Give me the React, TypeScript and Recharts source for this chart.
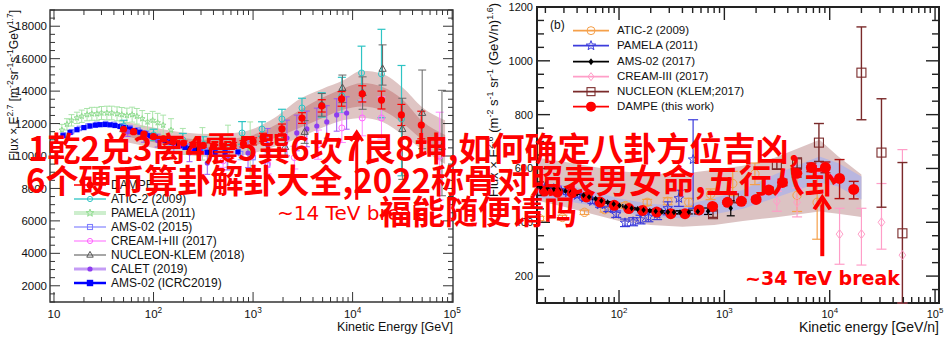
import React from 'react';
import {
  ComposedChart,
  Area,
  Scatter,
  ErrorBar,
  XAxis,
  YAxis,
  ReferenceArea,
  ReferenceLine,
  ReferenceDot,
  Legend,
} from 'recharts';

const FONT = '"Liberation Sans", Arial, Helvetica, sans-serif';
const RED = '#ff0000';

// ---------- panel (a): protons, flux x E^2.7 ----------
const P_X_DOMAIN = [9.12, 102000];
const P_Y_DOMAIN = [1000, 19000];
const P_X_MAJOR = [10, 100, 1000, 10000, 100000];
const P_Y_MAJOR = [2000, 4000, 6000, 8000, 10000, 12000, 14000, 16000, 18000];

const pBandE = [50, 100, 200, 400, 800, 1500, 3000, 5000, 8000, 12500, 20000, 32000, 50000, 85000];
const pOuterLo = [10900, 10500, 10100, 9950, 10050, 10500, 11150, 11750, 12200, 12350, 12100, 11300, 10400, 9500];
const pOuterHi = [12150, 11750, 11450, 11350, 11500, 12200, 13550, 14150, 14650, 15250, 15050, 14200, 13000, 12200];
const pInnerLo = [11250, 10850, 10450, 10300, 10450, 11000, 11750, 12350, 12850, 13050, 12800, 12000, 11000, 10100];
const pInnerHi = [11800, 11400, 11100, 11000, 11150, 11750, 12850, 13600, 14150, 14500, 14250, 13450, 12150, 11300];

const dampePE = [50, 63, 80, 100, 126, 158, 200, 250, 316, 400, 500, 630, 800, 1000, 1260, 1950, 3100, 4900, 7750, 12500, 19500, 30900, 49000];
const dampePF = [11650, 11500, 11350, 11200, 11050, 10900, 10800, 10700, 10650, 10600, 10600, 10650, 10750, 10900, 11150, 11670, 12340, 13090, 13520, 13830, 13450, 12530, 11910];
const dampePErr = [120, 120, 120, 120, 120, 130, 130, 140, 150, 160, 170, 180, 200, 220, 250, 300, 330, 380, 450, 500, 550, 650, 850];

const aticPE = [50, 100, 197, 316, 776, 1230, 1950, 3100, 4900, 7800, 12300, 19500, 31000];
const aticPF = [11850, 11300, 10990, 10740, 11420, 11660, 12280, 12960, 13150, 13700, 15120, 15060, 12280];
const aticPLo = [350, 350, 400, 450, 700, 450, 600, 600, 750, 1050, 1700, 2700, 3500];
const aticPHi = [350, 350, 400, 450, 700, 450, 600, 600, 750, 1150, 1650, 2750, 3300];

const pamelaPE = [12, 13.5, 15, 17, 19, 21.5, 24, 27, 30, 34, 38, 43, 48, 54, 61, 68, 77, 87, 98, 110, 125, 150, 197, 310, 560, 935];
const pamelaPF = [11600, 11950, 12200, 12350, 12450, 12550, 12600, 12600, 12650, 12650, 12650, 12600, 12550, 12500, 12550, 12450, 12300, 12100, 12200, 12050, 11900, 11600, 10900, 10750, 10600, 10400];
const pamelaPErr = [350, 350, 350, 350, 380, 380, 400, 400, 400, 420, 420, 430, 440, 450, 460, 480, 500, 520, 550, 580, 620, 700, 800, 1000, 1300, 1700];

const ams15E = [12.5, 15, 18, 22, 27, 33, 40, 48, 58, 70, 85, 103, 125, 150, 180, 220, 270, 330, 420, 550, 750, 1000, 1400];
const ams15F = [11300, 11500, 11700, 11850, 11950, 12000, 11950, 11850, 11750, 11600, 11400, 11200, 11000, 10850, 10700, 10550, 10420, 10330, 10270, 10220, 10150, 9900, 9450];
const ams15Err = [60, 60, 60, 60, 60, 60, 60, 70, 70, 80, 80, 90, 100, 110, 120, 140, 160, 190, 230, 290, 380, 500, 750];

const creamPE = [500, 1400, 2600, 4500, 7800, 12500, 19500, 75000];
const creamPF = [9700, 9500, 9900, 10700, 11730, 12345, 12345, 10000];
const creamPErr = [400, 600, 700, 900, 900, 1100, 1300, 2700];

const nucleonPE = [2100, 3300, 4900, 7900, 12600, 20000, 31600, 50000, 79000];
const nucleonPF = [10550, 11480, 13150, 14190, 13880, 15370, 11660, 12650, 10550];
const nucleonPLo = [600, 700, 700, 900, 1000, 1000, 3100, 2200, 3000];
const nucleonPHi = [600, 700, 700, 800, 1000, 1480, 1900, 2650, 3500];

const caletE = [55, 80, 110, 160, 230, 347, 550, 890, 1400, 2190, 2750, 3470, 4370, 5500, 6920, 8710];
const caletF = [11500, 11200, 10950, 10600, 10200, 9570, 9940, 10185, 10700, 11110, 11420, 11670, 11850, 12100, 12530, 12650];
const caletErr = [300, 350, 400, 450, 550, 700, 800, 900, 1000, 1100, 1100, 1100, 1100, 1000, 1000, 1000];

const amsIcrcE = [12.3, 14.5, 17, 20, 23, 26, 29, 32.6, 36.6, 41, 46, 52, 58, 65, 73, 82, 92, 104, 116, 131, 146, 164, 184, 207, 232, 260, 292, 345, 415, 523, 705];
const amsIcrcF = [11250, 11450, 11620, 11750, 11850, 11900, 11930, 11940, 11920, 11880, 11820, 11750, 11660, 11570, 11470, 11360, 11250, 11150, 11050, 10950, 10860, 10750, 10630, 10530, 10450, 10370, 10290, 10230, 10200, 10200, 10250];

// ---------- panel (b): helium, flux x E^2.6 ----------
const H_X_DOMAIN = [16.65, 109000];
const H_Y_DOMAIN = [100, 1200];
const H_X_MAJOR = [100, 1000, 10000, 100000];
const H_Y_MAJOR = [200, 400, 600, 800, 1000, 1200];

const hBandE = [17, 30, 50, 100, 200, 400, 800, 1500, 3000, 8000, 12000, 20000];
const hOuterLo = [480, 458, 435, 405, 390, 383, 390, 405, 418, 440, 432, 420];
const hOuterHi = [640, 625, 610, 590, 580, 580, 595, 610, 640, 707, 645, 578];
const hInnerLo = [490, 480, 465, 438, 420, 415, 430, 450, 490, 548, 533, 485];
const hInnerHi = [545, 538, 522, 488, 468, 462, 490, 520, 578, 644, 620, 570];

const dampeHE = [19.6, 26, 36, 49, 66, 90, 124, 167, 228, 310, 423, 575, 772, 1070, 1450, 2000, 2640, 3560, 4870, 6700, 9100, 12400, 16900];
const dampeHF = [516, 512, 510, 494, 475, 463, 451, 444, 438, 432, 432, 446, 459, 474, 478, 485, 520, 548, 582, 604, 604, 563, 522];
const dampeHLo = [3, 3, 3, 3, 3, 3, 3, 3, 3, 3, 4, 4, 5, 6, 7, 8, 10, 12, 14, 16, 20, 75, 35];
const dampeHHi = [3, 3, 3, 3, 3, 3, 3, 3, 3, 3, 4, 4, 5, 6, 7, 8, 10, 12, 14, 16, 20, 70, 30];

const ams17E = [18, 21, 24, 27, 31, 35, 40, 46, 52, 60, 68, 78, 89, 101, 116, 132, 150, 171, 196, 223, 255, 291, 332, 379, 460, 560, 700, 1150];
const ams17F = [530, 527, 524, 520, 516, 512, 507, 500, 494, 487, 480, 474, 468, 462, 457, 452, 449, 446, 443, 441, 439, 438, 437, 437, 438, 440, 441, 452];
const ams17Err = [3, 3, 3, 3, 3, 3, 3, 3, 3, 3, 3, 3, 3, 3, 3, 3, 3, 3, 4, 4, 4, 5, 5, 6, 7, 9, 12, 28];

const pamelaHE = [20, 24, 28, 33, 40, 47, 56, 66, 79, 94, 114, 136, 160, 190, 230, 290, 370, 505];
const pamelaHF = [532, 525, 518, 510, 500, 490, 478, 465, 450, 430, 398, 402, 410, 420, 430, 452, 489, 633];
const pamelaHLo = [6, 6, 6, 7, 7, 8, 8, 9, 10, 12, 14, 15, 16, 18, 20, 24, 30, 181];
const pamelaHHi = [6, 6, 6, 7, 7, 8, 8, 9, 10, 12, 14, 15, 16, 18, 20, 24, 30, 148];

const aticHE = [17.6, 29, 47, 73, 115, 185, 290, 460, 740, 1200, 1950, 4900, 7600];
const aticHF = [414, 418, 437, 447, 462, 474, 478, 474, 504, 544, 580, 500, 474];
const aticHLo = [8, 8, 8, 9, 10, 11, 13, 15, 20, 45, 40, 60, 137];
const aticHHi = [8, 8, 8, 9, 10, 11, 13, 15, 20, 45, 40, 80, 96];

const creamHE = [3150, 4900, 12400, 20000, 31000, 49000];
const creamHF = [478, 474, 356, 356, 400, 278];
const creamHLo = [37, 54, 112, 115, 100, 178];
const creamHHi = [37, 54, 96, 96, 144, 392];

const nucleonHE = [780, 1230, 3150, 4900, 7900, 20000, 31000, 49000];
const nucleonHF = [430, 489, 615, 619, 696, 956, 659, 359];
const nucleonHLo = [12, 15, 18, 20, 70, 175, 203, 259];
const nucleonHHi = [12, 15, 18, 20, 71, 170, 200, 263];

const OVERLAY_LINES = [
  '1乾2兑3离4震5巽6坎7艮8坤,如何确定八卦方位吉凶,',
  '6个硬币算卦解卦大全,2022称骨对照表男女命,五行八卦',
  '福能随便请吗',
];

// ---------- helpers ----------
const logTicks = (lo: number, hi: number) => {
  const out: number[] = [];
  for (let d = 1; d <= 100000; d *= 10) {
    for (let k = 1; k < 10; k++) {
      const v = d * k;
      if (v >= lo && v <= hi) out.push(v);
    }
  }
  return out;
};
const linTicks = (lo: number, hi: number, step: number) => {
  const out: number[] = [];
  for (let v = lo; v <= hi; v += step) out.push(v);
  return out;
};

const rows = (e: number[], f: number[], lo?: number[], hi?: number[]) =>
  e.map((x, i) => ({ e: x, f: f[i], err: lo ? [lo[i], (hi ?? lo)[i]] : [0, 0] }));

const bandRows = (e: number[], oLo: number[], oHi: number[], iLo: number[], iHi: number[]) =>
  e.map((x, i) => ({ e: x, outer: [oLo[i], oHi[i]], inner: [iLo[i], iHi[i]] }));

const pBand = bandRows(pBandE, pOuterLo, pOuterHi, pInnerLo, pInnerHi);
const hBand = bandRows(hBandE, hOuterLo, hOuterHi, hInnerLo, hInnerHi);

function starPoints(cx: number, cy: number, R: number) {
  const pts: string[] = [];
  for (let i = 0; i < 10; i++) {
    const a = -Math.PI / 2 + (i * Math.PI) / 5;
    const r = i % 2 ? R * 0.42 : R;
    pts.push(`${cx + r * Math.cos(a)},${cy + r * Math.sin(a)}`);
  }
  return pts.join(' ');
}

function Glyph({ kind, color, s, cx, cy }: any) {
  if (cx == null || cy == null || isNaN(cx) || isNaN(cy)) return null;
  switch (kind) {
    case 'dot':
      return <circle cx={cx} cy={cy} r={s} fill={color} />;
    case 'circle':
      return <circle cx={cx} cy={cy} r={s} fill="none" stroke={color} strokeWidth={1} />;
    case 'square':
      return <rect x={cx - s} y={cy - s} width={2 * s} height={2 * s} fill="none" stroke={color} strokeWidth={1.1} />;
    case 'box':
      return <rect x={cx - s} y={cy - s} width={2 * s} height={2 * s} fill={color} />;
    case 'diamond':
      return <polygon points={`${cx},${cy - s} ${cx + s * 0.75},${cy} ${cx},${cy + s} ${cx - s * 0.75},${cy}`} fill="none" stroke={color} strokeWidth={1} />;
    case 'rhomb':
      return <polygon points={`${cx},${cy - s} ${cx + s * 0.75},${cy} ${cx},${cy + s} ${cx - s * 0.75},${cy}`} fill={color} />;
    case 'triangle':
      return <polygon points={`${cx},${cy - s} ${cx + s * 0.9},${cy + s * 0.6} ${cx - s * 0.9},${cy + s * 0.6}`} fill="none" stroke={color} strokeWidth={1} />;
    case 'star':
      return <polygon points={starPoints(cx, cy, s)} fill="none" stroke={color} strokeWidth={1} />;
    default:
      return null;
  }
}

const mark = (kind: string, color: string, s: number) => (p: any) =>
  <Glyph kind={kind} color={color} s={s} cx={p.cx} cy={p.cy} />;

function XTick(props: any) {
  const { x, y, payload, plotH, majors, majorLen, minorLen, fs, dy, color, sw } = props;
  const v = payload.value;
  const major = majors.includes(v);
  const len = major ? majorLen : minorLen;
  const exp = Math.round(Math.log10(v));
  return (
    <g>
      <line x1={x} x2={x} y1={y} y2={y - len} stroke={color} strokeWidth={sw} />
      <line x1={x} x2={x} y1={y - plotH} y2={y - plotH + len} stroke={color} strokeWidth={sw} />
      {major && (
        <text x={x} y={y + dy} textAnchor="middle" fontSize={fs} fontFamily={FONT} fill="#111">
          10
          {exp > 1 && (
            <tspan dy={-fs * 0.45} fontSize={fs * 0.72}>
              {exp}
            </tspan>
          )}
        </text>
      )}
    </g>
  );
}

function YTick(props: any) {
  const { x, y, payload, plotW, majors, majorLen, minorLen, fs, gap, color, sw } = props;
  const v = payload.value;
  const major = majors.includes(v);
  const len = major ? majorLen : minorLen;
  return (
    <g>
      <line x1={x} x2={x + len} y1={y} y2={y} stroke={color} strokeWidth={sw} />
      <line x1={x + plotW} x2={x + plotW - len} y1={y} y2={y} stroke={color} strokeWidth={sw} />
      {major && (
        <text x={x - gap} y={y + fs * 0.36} textAnchor="end" fontSize={fs} fontFamily={FONT} fill="#111">
          {v}
        </text>
      )}
    </g>
  );
}

const P_LEGEND = [
  { name: 'DAMPE', color: RED, kind: 'dot', s: 3.5, lineW: 1.5, line: RED },
  { name: 'ATIC-2 (2009)', color: '#2ec4c4', kind: 'circle', s: 2.6, lineW: 1.3, line: '#2ec4c4' },
  { name: 'PAMELA (2011)', color: '#8fdc8f', kind: 'star', s: 4, lineW: 4, line: '#cdeecd' },
  { name: 'AMS-02 (2015)', color: '#7f7fff', kind: 'square', s: 2.5, lineW: 1.5, line: '#9d9dff' },
  { name: 'CREAM-I+III (2017)', color: '#ff66ff', kind: 'circle', s: 2.6, lineW: 1.3, line: '#ff88ff' },
  { name: 'NUCLEON-KLEM (2018)', color: '#555555', kind: 'triangle', s: 3.6, lineW: 1.3, line: '#777777' },
  { name: 'CALET (2019)', color: '#8d3cf0', kind: 'dot', s: 2.6, lineW: 3, line: '#c49cf5' },
  { name: 'AMS-02 (ICRC2019)', color: '#0000ff', kind: 'box', s: 3.2, lineW: 2.5, line: '#0000ff' },
];

const H_LEGEND = [
  { name: 'ATIC-2 (2009)', color: '#f5a04a', kind: 'circle', s: 4, lineW: 1.6, line: '#f5a04a' },
  { name: 'PAMELA (2011)', color: '#3c3cdc', kind: 'star', s: 5, lineW: 1.6, line: '#3c3cdc' },
  { name: 'AMS-02 (2017)', color: '#000000', kind: 'rhomb', s: 3.5, lineW: 1.6, line: '#000000' },
  { name: 'CREAM-III (2017)', color: '#ff9ec8', kind: 'diamond', s: 4, lineW: 1.6, line: '#ff9ec8' },
  { name: 'NUCLEON (KLEM;2017)', color: '#7a2a2a', kind: 'square', s: 4, lineW: 1.6, line: '#7a2a2a' },
  { name: 'DAMPE (this work)', color: RED, kind: 'dot', s: 5, lineW: 1.6, line: RED },
];

function LegendBox({ items, rowH, swatchW, gap, fs }: any) {
  return (
    <div style={{ fontFamily: FONT, fontSize: fs, color: '#111' }}>
      {items.map((it: any) => (
        <div key={it.name} style={{ display: 'flex', alignItems: 'center', height: rowH }}>
          <svg width={swatchW} height={rowH} style={{ flex: 'none', overflow: 'visible' }}>
            <line x1={0} x2={swatchW} y1={rowH / 2} y2={rowH / 2} stroke={it.line} strokeWidth={it.lineW} />
            <Glyph kind={it.kind} color={it.color} s={it.s} cx={swatchW / 2} cy={rowH / 2} />
          </svg>
          <span style={{ marginLeft: gap, whiteSpace: 'nowrap', lineHeight: `${rowH}px` }}>{it.name}</span>
        </div>
      ))}
    </div>
  );
}

const chevron = (half: number, h: number, w: number) => (p: any) =>
  (
    <polyline
      points={`${p.cx - half},${p.cy + h} ${p.cx},${p.cy} ${p.cx + half},${p.cy + h}`}
      fill="none"
      stroke={RED}
      strokeWidth={w}
    />
  );

// ---------- panels ----------
function ProtonPanel() {
  const plotW = 403;
  const plotH = 292;
  const xTick = (p: any) => (
    <XTick {...p} plotH={plotH} majors={P_X_MAJOR} majorLen={10} minorLen={5} fs={11.5} dy={16} color="#333" sw={1} />
  );
  const yTick = (p: any) => (
    <YTick {...p} plotW={plotW} majors={P_Y_MAJOR} majorLen={10} minorLen={5} fs={11.5} gap={3} color="#333" sw={1} />
  );
  const xLabel = () => (
    <text x={453} y={331} textAnchor="end" fontSize={12.5} fontFamily={FONT} fill="#111">
      Kinetic Energy [GeV]
    </text>
  );
  const yLabel = () => (
    <text transform="translate(18,10) rotate(-90)" textAnchor="end" fontSize={12} fontFamily={FONT} fill="#111">
      Flux × E<tspan baselineShift="super" fontSize={8.5}>2.7</tspan> [m<tspan baselineShift="super" fontSize={8.5}>-2</tspan>sr
      <tspan baselineShift="super" fontSize={8.5}>-1</tspan>s<tspan baselineShift="super" fontSize={8.5}>-1</tspan>GeV
      <tspan baselineShift="super" fontSize={8.5}>1.7</tspan>]
    </text>
  );
  return (
    <ComposedChart width={475} height={352} data={pBand} margin={{ top: 10, right: 22, bottom: 20, left: 10 }}>
      <XAxis
        dataKey="e"
        type="number"
        scale="log"
        domain={P_X_DOMAIN}
        allowDataOverflow
        ticks={logTicks(P_X_DOMAIN[0], P_X_DOMAIN[1])}
        interval={0}
        tickSize={0}
        tickMargin={0}
        axisLine={false}
        tickLine={false}
        height={30}
        tick={xTick}
        label={xLabel}
      />
      <YAxis
        dataKey="f"
        type="number"
        domain={P_Y_DOMAIN}
        allowDataOverflow
        ticks={linTicks(1000, 19000, 500)}
        interval={0}
        tickSize={0}
        tickMargin={0}
        axisLine={false}
        tickLine={false}
        width={40}
        tick={yTick}
        label={yLabel}
      />
      <Area dataKey="outer" type="monotone" stroke="none" fill="#dfc5c4" fillOpacity={1} isAnimationActive={false} />
      <Area dataKey="inner" type="monotone" stroke="none" fill="#cf9a99" fillOpacity={1} isAnimationActive={false} />

      <Scatter data={rows(pamelaPE, pamelaPF, pamelaPErr)} dataKey="f" shape={mark('star', '#8fdc8f', 3)} isAnimationActive={false}>
        <ErrorBar dataKey="err" direction="y" width={3} stroke="#a9e4a9" strokeWidth={1} isAnimationActive={false} />
      </Scatter>
      <Scatter data={rows(ams15E, ams15F, ams15Err)} dataKey="f" shape={mark('square', '#7f7fff', 2.2)} isAnimationActive={false}>
        <ErrorBar dataKey="err" direction="y" width={3} stroke="#9d9dff" strokeWidth={1} isAnimationActive={false} />
      </Scatter>
      <Scatter data={rows(amsIcrcE, amsIcrcF)} dataKey="f" shape={mark('box', '#0000ff', 2.6)} isAnimationActive={false} />
      <Scatter data={rows(aticPE, aticPF, aticPLo, aticPHi)} dataKey="f" shape={mark('circle', '#2ec4c4', 3)} isAnimationActive={false}>
        <ErrorBar dataKey="err" direction="y" width={4} stroke="#2ec4c4" strokeWidth={1.2} isAnimationActive={false} />
      </Scatter>
      <Scatter data={rows(creamPE, creamPF, creamPErr)} dataKey="f" shape={mark('circle', '#ff66ff', 3)} isAnimationActive={false}>
        <ErrorBar dataKey="err" direction="y" width={4} stroke="#ff88ff" strokeWidth={1} isAnimationActive={false} />
      </Scatter>
      <Scatter data={rows(caletE, caletF, caletErr)} dataKey="f" shape={mark('dot', '#8d3cf0', 2.6)} isAnimationActive={false}>
        <ErrorBar dataKey="err" direction="y" width={3} stroke="#9b55f2" strokeWidth={1} isAnimationActive={false} />
      </Scatter>
      <Scatter data={rows(nucleonPE, nucleonPF, nucleonPLo, nucleonPHi)} dataKey="f" shape={mark('triangle', '#555555', 4)} isAnimationActive={false}>
        <ErrorBar dataKey="err" direction="y" width={4} stroke="#666666" strokeWidth={1} isAnimationActive={false} />
      </Scatter>
      <Scatter data={rows(dampePE, dampePF, dampePErr)} dataKey="f" shape={mark('dot', RED, 3.6)} isAnimationActive={false}>
        <ErrorBar dataKey="err" direction="y" width={4} stroke={RED} strokeWidth={1.2} isAnimationActive={false} />
      </Scatter>

      <ReferenceLine segment={[{ x: 11000, y: 7300 }, { x: 11000, y: 11350 }]} stroke={RED} strokeWidth={3} ifOverflow="visible" />
      <ReferenceDot x={11000} y={11480} ifOverflow="visible" shape={chevron(6, 9, 3)} />

      <ReferenceArea x1={P_X_DOMAIN[0]} x2={P_X_DOMAIN[1]} y1={P_Y_DOMAIN[0]} y2={P_Y_DOMAIN[1]} fill="none" stroke="#333" strokeWidth={1.4} ifOverflow="visible" />
      <Legend
        layout="vertical"
        align="center"
        verticalAlign="middle"
        wrapperStyle={{ left: 74, top: 178, width: 220, height: 112 }}
        content={() => <LegendBox items={P_LEGEND} rowH={14} swatchW={32} gap={5} fs={12} />}
      />
    </ComposedChart>
  );
}

function HeliumPanel() {
  const plotW = 402;
  const plotH = 296;
  const xTick = (p: any) => (
    <XTick {...p} plotH={plotH} majors={H_X_MAJOR} majorLen={13} minorLen={6} fs={11} dy={15} color="#222" sw={1.4} />
  );
  const yTick = (p: any) => (
    <YTick {...p} plotW={plotW} majors={H_Y_MAJOR} majorLen={13} minorLen={7} fs={11} gap={4} color="#222" sw={1.4} />
  );
  const xLabel = () => (
    <text x={463} y={332} textAnchor="end" fontSize={14} fontFamily={FONT} fill="#111">
      Kinetic energy [GeV/n]
    </text>
  );
  const yLabel = () => (
    <g>
      <text transform="translate(22,3) rotate(-90)" textAnchor="end" fontSize={13} fontFamily={FONT} fill="#111">
        Flux × E<tspan baselineShift="super" fontSize={9}>2.6</tspan> (m<tspan baselineShift="super" fontSize={9}>-2</tspan> s
        <tspan baselineShift="super" fontSize={9}>-1</tspan> sr<tspan baselineShift="super" fontSize={9}>-1</tspan> (GeV/n)
        <tspan baselineShift="super" fontSize={9}>1.6</tspan>)
      </text>
      <text x={74} y={29} fontSize={12} fontFamily={FONT} fill="#111">
        (b)
      </text>
    </g>
  );
  return (
    <ComposedChart width={475} height={352} data={hBand} margin={{ top: 7, right: 12, bottom: 19, left: 21 }}>
      <XAxis
        dataKey="e"
        type="number"
        scale="log"
        domain={H_X_DOMAIN}
        allowDataOverflow
        ticks={logTicks(H_X_DOMAIN[0], H_X_DOMAIN[1])}
        interval={0}
        tickSize={0}
        tickMargin={0}
        axisLine={false}
        tickLine={false}
        height={30}
        tick={xTick}
        label={xLabel}
      />
      <YAxis
        dataKey="f"
        type="number"
        domain={H_Y_DOMAIN}
        allowDataOverflow
        ticks={linTicks(100, 1200, 50)}
        interval={0}
        tickSize={0}
        tickMargin={0}
        axisLine={false}
        tickLine={false}
        width={40}
        tick={yTick}
        label={yLabel}
      />
      <Area dataKey="outer" type="linear" stroke="none" fill="#dcc3c3" fillOpacity={1} isAnimationActive={false} />
      <Area dataKey="inner" type="linear" stroke="none" fill="#b9b6df" fillOpacity={1} isAnimationActive={false} />

      <Scatter data={rows(aticHE, aticHF, aticHLo, aticHHi)} dataKey="f" shape={mark('circle', '#f5a04a', 4.2)} isAnimationActive={false}>
        <ErrorBar dataKey="err" direction="y" width={5} stroke="#f5a04a" strokeWidth={1.2} isAnimationActive={false} />
      </Scatter>
      <Scatter data={rows(pamelaHE, pamelaHF, pamelaHLo, pamelaHHi)} dataKey="f" shape={mark('star', '#3c3cdc', 5)} isAnimationActive={false}>
        <ErrorBar dataKey="err" direction="y" width={5} stroke="#3c3cdc" strokeWidth={1.2} isAnimationActive={false} />
      </Scatter>
      <Scatter data={rows(creamHE, creamHF, creamHLo, creamHHi)} dataKey="f" shape={mark('diamond', '#ff9ec8', 4.5)} isAnimationActive={false}>
        <ErrorBar dataKey="err" direction="y" width={5} stroke="#ff9ec8" strokeWidth={1.2} isAnimationActive={false} />
      </Scatter>
      <Scatter data={rows(nucleonHE, nucleonHF, nucleonHLo, nucleonHHi)} dataKey="f" shape={mark('square', '#7a2a2a', 4.5)} isAnimationActive={false}>
        <ErrorBar dataKey="err" direction="y" width={5} stroke="#7a2a2a" strokeWidth={1.4} isAnimationActive={false} />
      </Scatter>
      <Scatter data={rows(dampeHE, dampeHF, dampeHLo, dampeHHi)} dataKey="f" shape={mark('dot', RED, 5.5)} isAnimationActive={false}>
        <ErrorBar dataKey="err" direction="y" width={5} stroke="#b01010" strokeWidth={1.4} isAnimationActive={false} />
      </Scatter>
      <Scatter data={rows(ams17E, ams17F, ams17Err)} dataKey="f" shape={mark('rhomb', '#000000', 3)} isAnimationActive={false}>
        <ErrorBar dataKey="err" direction="y" width={4} stroke="#000000" strokeWidth={1.2} isAnimationActive={false} />
      </Scatter>

      <ReferenceLine segment={[{ x: 8500, y: 274 }, { x: 8500, y: 480 }]} stroke={RED} strokeWidth={4} ifOverflow="visible" />
      <ReferenceDot x={8500} y={493} ifOverflow="visible" shape={chevron(8, 12, 4)} />

      <ReferenceArea x1={H_X_DOMAIN[0]} x2={H_X_DOMAIN[1]} y1={H_Y_DOMAIN[0]} y2={H_Y_DOMAIN[1]} fill="none" stroke="#222" strokeWidth={2} ifOverflow="visible" />
      <Legend
        layout="vertical"
        align="center"
        verticalAlign="middle"
        wrapperStyle={{ left: 97, top: 23, width: 230, height: 92 }}
        content={() => <LegendBox items={H_LEGEND} rowH={15.3} swatchW={36} gap={8} fs={11.5} />}
      />
    </ComposedChart>
  );
}

export default function App() {
  return (
    <div style={{ position: 'absolute', left: 0, top: 0, width: 951, height: 352, background: '#fff', overflow: 'hidden' }}>
      <div style={{ position: 'absolute', left: 0, top: 0 }}>
        <ProtonPanel />
      </div>
      <div style={{ position: 'absolute', left: 476, top: 0 }}>
        <HeliumPanel />
      </div>
      <svg width={951} height={352} style={{ position: 'absolute', left: 0, top: 0, pointerEvents: 'none' }}>
        <text x={277} y={220} fontSize={20} fontFamily='"DejaVu Sans", sans-serif' fill={RED}>
          ~14 TeV break
        </text>
        <text x={745} y={285} fontSize={19} fontWeight={700} fontFamily='"DejaVu Sans", sans-serif' fill={RED}>
          ~34 TeV break
        </text>
        <g fontFamily='"Noto Sans CJK SC", "Noto Sans CJK JP", sans-serif' fontWeight={700} fontSize={33} fill={RED}>
          <text x={28} y={161}>{OVERLAY_LINES[0]}</text>
          <text x={26} y={193}>{OVERLAY_LINES[1]}</text>
          <text x={379} y={224}>{OVERLAY_LINES[2]}</text>
        </g>
      </svg>
    </div>
  );
}
